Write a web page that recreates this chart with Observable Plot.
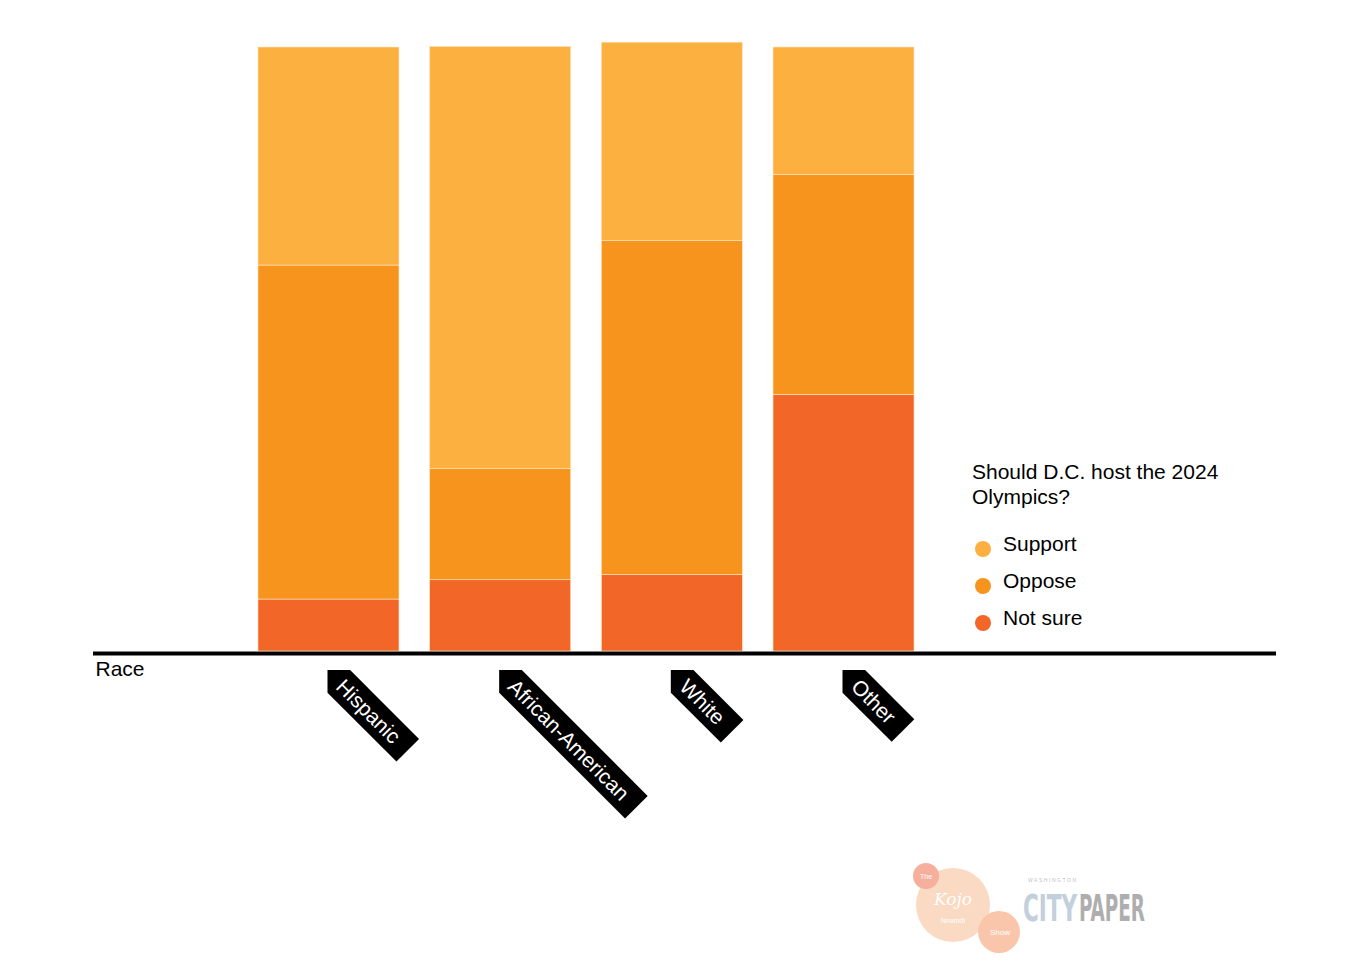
<!DOCTYPE html>
<html>
<head>
<meta charset="utf-8">
<script src="https://cdn.jsdelivr.net/npm/d3@7"></script>
<script src="https://cdn.jsdelivr.net/npm/@observablehq/plot@0.6"></script>
<style>
  html, body { margin: 0; padding: 0; background: #fff; }
  body { position: relative; width: 1350px; height: 980px; overflow: hidden;
         font-family: "Liberation Sans", Arial, Helvetica, sans-serif; }
  #chart { position: absolute; left: 0; top: 0; }
  #legend { position: absolute; left: 972px; top: 459px; color: #000; font-size: 21px; }
  #legend .title { line-height: 25px; width: 280px; }
  #legend .items { margin-top: 23px; }
  #legend .item { position: relative; height: 37px; line-height: 24px; padding-left: 31px; }
  #legend .sw { position: absolute; left: 3px; top: 9px; width: 16px; height: 16px; border-radius: 50%; }
  #logo { position: absolute; left: 900px; top: 855px; opacity: 0.9; }
</style>
</head>
<body>
<div id="chart"></div>
<div id="legend"></div>
<svg id="logo" width="300" height="110" viewBox="0 0 300 110">
  <circle cx="53" cy="50" r="37" fill="#fbd6bd"/>
  <circle cx="26" cy="21" r="13" fill="#f6a792"/>
  <circle cx="99" cy="77" r="21" fill="#f9c0a4"/>
  <text x="26" y="24" font-size="7" fill="#fff" text-anchor="middle" font-family="Liberation Sans, Arial">The</text>
  <text x="53" y="50" font-size="17" fill="#fff" text-anchor="middle" font-style="italic" font-family="DejaVu Serif, serif">Kojo</text>
  <text x="53" y="68" font-size="7" fill="#fff" text-anchor="middle" font-family="Liberation Sans, Arial">Nnamdi</text>
  <text x="100" y="80" font-size="8" fill="#fff" text-anchor="middle" font-family="Liberation Sans, Arial">Show</text>
  <text x="128" y="27" font-size="5" fill="#b9b9b9" textLength="48" font-family="Liberation Sans, Arial">WASHINGTON</text>
  <g transform="translate(123,66) scale(1,1.85)">
    <text x="0" y="0" font-size="20" font-weight="bold" fill="#bccbd9" textLength="54" lengthAdjust="spacingAndGlyphs" font-family="DejaVu Sans Condensed, Liberation Sans Narrow, Arial">CITY</text>
    <text x="56" y="0" font-size="20" font-weight="bold" fill="#a6a6a6" textLength="66" lengthAdjust="spacingAndGlyphs" font-family="DejaVu Sans Condensed, Liberation Sans Narrow, Arial">PAPER</text>
  </g>
</svg>
<script>
// ---- Data (percent of respondents) ----
const races = ["Hispanic", "African-American", "White", "Other"];
const responses = ["Support", "Oppose", "Not sure"];
const support = [36.1, 69.9, 32.8, 21.1];
const oppose  = [55.3, 18.4, 55.3, 36.4];
const notSure = [8.6, 11.8, 12.7, 42.5];
const colors  = ["#fbb040", "#f7941d", "#f26628"];
const legendTitle = "Should D.C. host the 2024 Olympics?";
const axisLabel = "Race";

// Long table built from the arrays
const rows = [];
races.forEach((r, i) => {
  rows.push({race: r, response: "Not sure", value: notSure[i]});
  rows.push({race: r, response: "Oppose", value: oppose[i]});
  rows.push({race: r, response: "Support", value: support[i]});
});

const FONT = '21px "Liberation Sans", Arial, Helvetica, sans-serif';
const PAD = 0.1787;

// Custom mark: black pointed tags with rotated white category labels
function tagMark(index, scales) {
  const g = d3.create("svg:g");
  const ctx = document.createElement("canvas").getContext("2d");
  ctx.font = FONT;
  const x = scales.x;
  const bw = typeof x.bandwidth === "function"
    ? x.bandwidth()
    : (x(races[1]) - x(races[0])) * (1 - PAD);
  const y0 = scales.y(0);
  for (const r of races) {
    const cx = x(r) + bw / 2 - 1;
    const cy = y0 + 19;
    const w = ctx.measureText(r).width;
    const L = w + 33, h = 16;
    const t = g.append("g").attr("transform", `translate(${cx},${cy}) rotate(45)`);
    t.append("path")
      .attr("d", `M0,0L${h},${-h}L${L},${-h}L${L},${h}L${h},${h}Z`)
      .attr("fill", "#000");
    t.append("text")
      .attr("x", 18).attr("y", 0).attr("dy", "0.36em")
      .attr("text-anchor", "start")
      .attr("fill", "#fff")
      .style("font", FONT)
      .text(r);
  }
  return g.node();
}

const chart = Plot.plot({
  width: 1350,
  height: 980,
  marginTop: 47,
  marginBottom: 329,
  marginLeft: 93,
  marginRight: 74,
  style: {fontFamily: '"Liberation Sans", Arial, Helvetica, sans-serif', fontSize: "21px", background: "#fff"},
  x: {domain: races, range: [227.3, 944.7], padding: PAD, round: false, axis: null},
  y: {domain: [0, 100], axis: null},
  color: {domain: responses, range: colors},
  marks: [
    Plot.barY(rows, Plot.stackY({
      order: ["Not sure", "Oppose", "Support"],
      x: "race", y: "value", fill: "response", z: "response",
      stroke: "#fde6c4", strokeWidth: 0.6
    })),
    Plot.ruleY([0], {stroke: "#000", strokeWidth: 4, dy: 2}),
    Plot.text([axisLabel], {
      frameAnchor: "bottom-left", text: d => d, textAnchor: "start",
      lineAnchor: "top", dx: 2, dy: 10, fill: "#000", fontSize: 21
    }),
    tagMark
  ]
});
document.getElementById("chart").appendChild(chart);

// Legend
const legend = d3.select("#legend");
legend.append("div").attr("class", "title").text(legendTitle);
const items = legend.append("div").attr("class", "items");
responses.forEach((r, i) => {
  const it = items.append("div").attr("class", "item");
  it.append("span").attr("class", "sw").style("background", colors[i]);
  it.append("span").text(r);
});
</script>
</body>
</html>
